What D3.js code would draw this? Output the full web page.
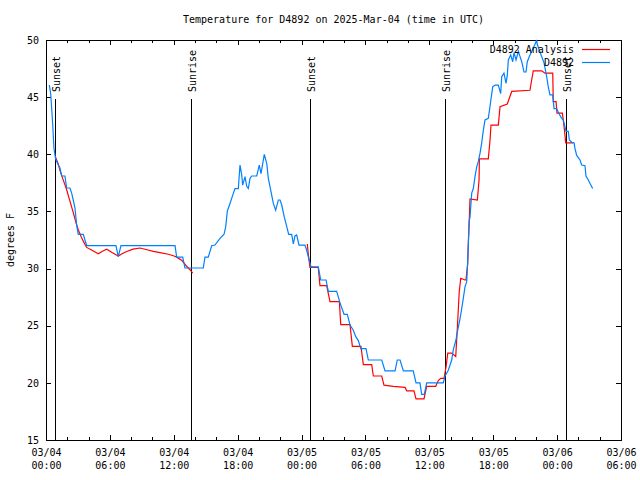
<!DOCTYPE html>
<html><head><meta charset="utf-8">
<script src="https://cdn.jsdelivr.net/npm/d3@7"></script>
<style>
html,body{margin:0;padding:0;background:#fff;}
svg{display:block;}
text{font-family:"DejaVu Sans Mono",monospace;font-size:10px;fill:#000;}
</style></head><body>
<svg id="c" width="640" height="480"></svg>
<script>
// ---- data (hours after 2025-03-04 00:00 UTC) ----
const obsHours = [0.31,0.44,0.54,0.63,0.69,0.75,0.85,0.94,1.16,1.31,1.47,1.78,1.94,2.25,2.41,2.56,2.72,2.88,3.03,3.50,3.66,3.82,6.57,6.79,7.04,12.12,12.27,12.84,13.05,14.77,14.93,15.24,15.56,15.87,16.34,16.72,16.88,17.03,17.28,17.53,17.75,18.06,18.22,18.38,18.47,18.69,18.85,19.00,19.16,19.32,19.79,20.03,20.19,20.50,20.73,20.88,21.20,21.35,21.57,21.82,21.98,22.14,22.38,22.61,22.79,23.07,23.23,23.38,23.54,23.76,24.32,24.48,24.63,24.89,25.57,25.80,26.30,26.51,27.30,27.61,27.99,28.30,28.55,28.86,29.09,29.33,29.56,30.05,30.27,31.53,31.84,32.78,32.99,33.25,33.56,34.49,34.75,35.12,35.28,35.53,35.75,37.31,37.47,37.78,38.10,38.25,38.50,38.66,38.88,39.04,39.19,39.35,39.51,39.60,39.66,39.75,39.82,39.98,40.13,40.29,40.45,40.60,40.76,40.92,41.07,41.23,41.54,41.70,41.95,42.17,42.48,42.70,42.80,43.01,43.20,43.32,43.42,43.64,43.83,43.95,44.14,44.36,44.52,44.68,44.89,45.08,45.20,45.39,45.61,45.76,45.92,46.08,46.14,46.33,46.55,46.77,47.02,47.17,47.33,47.59,47.71,47.96,48.11,48.27,48.43,48.58,48.74,48.84,49.05,49.15,49.37,49.59,49.68,49.84,50.15,50.31,50.62,50.71,50.93,51.09,51.34];
const obsTemps = [46.06,45.3,43.9,42.6,41.5,40.5,39.9,39.5,39.06,38.8,38.1,38.1,37.05,37.05,36.6,36.0,35.3,33.8,33.0,33.0,32.5,32.0,32.0,31.04,32.0,32.0,31.0,31.0,30.05,30.05,31.0,31.0,32.0,32.06,32.65,33.0,33.67,35.04,35.7,36.4,37.0,37.0,39.06,38.2,37.3,38.04,37.2,37.0,37.9,38.1,38.1,39.06,38.3,40.0,39.2,37.9,36.4,35.7,35.1,36.0,36.0,35.56,34.5,33.67,33.0,33.0,32.15,32.85,32.94,32.06,32.06,31.6,31.04,30.15,30.15,29.0,29.0,28.0,28.0,27.0,26.0,26.0,25.06,24.6,24.04,23.7,23.0,23.0,22.0,22.0,21.04,21.04,22.0,22.0,21.04,21.04,20.0,20.0,19.0,19.0,20.0,20.0,20.6,21.1,22.0,22.9,23.75,24.6,25.6,26.5,27.4,28.4,28.85,30.6,32.06,34.25,34.5,36.6,37.0,38.04,38.9,39.35,40.1,41.0,42.1,43.0,43.15,44.2,45.9,46.06,46.06,45.3,46.8,47.1,46.2,46.9,48.25,48.7,48.1,48.9,48.25,49.0,48.55,48.1,47.2,47.2,48.1,48.55,49.0,49.3,49.6,50.0,49.6,49.1,48.55,48.0,46.8,45.9,45.2,45.2,44.0,44.0,43.7,43.4,43.15,43.0,42.4,42.0,42.0,41.25,41.05,41.0,40.5,39.9,39.5,39.06,39.0,38.1,37.75,37.45,37.0];

// analysis: null marks the gap during the day of 03/04
const anaHours = [0.87,1.13,1.31,1.60,1.94,2.25,2.56,2.82,3.03,3.29,3.50,3.82,4.32,4.91,5.26,5.70,6.20,6.79,7.14,7.58,8.17,8.83,9.49,10.08,10.71,11.49,12.02,12.27,12.77,13.21,13.52,13.78,null,24.54,24.63,24.79,25.57,25.73,26.36,26.67,27.55,27.68,28.55,28.77,29.58,29.80,30.59,30.74,31.53,31.74,32.62,33.72,33.88,34.56,34.75,35.50,35.75,36.60,36.84,37.07,37.38,37.57,37.73,38.10,38.48,38.63,38.81,38.95,39.35,39.44,39.60,39.66,39.75,39.82,40.51,40.67,40.70,41.54,41.70,41.79,42.48,42.64,43.32,43.51,43.74,45.45,45.61,45.76,46.55,46.86,47.59,47.64,47.90,47.99,48.49,48.58,48.68,48.81,49.52];
const anaTemps = [39.8,39.2,38.6,37.8,36.9,35.9,34.9,34.0,33.4,32.8,32.4,31.85,31.6,31.3,31.5,31.7,31.4,31.1,31.3,31.5,31.7,31.8,31.65,31.5,31.4,31.25,31.1,31.0,30.7,30.2,29.9,29.6,null,32.15,31.3,30.1,30.1,28.5,28.5,27.1,27.1,25.1,25.1,23.2,23.2,21.6,21.6,20.6,20.6,19.8,19.7,19.6,19.3,19.3,18.6,18.6,19.7,19.7,20.2,20.4,20.4,21.4,22.6,22.6,22.3,24.8,28.0,29.15,29.0,29.0,30.4,32.2,34.25,36.1,36.0,37.75,39.6,39.6,41.25,42.56,42.56,44.16,44.4,44.9,45.5,45.6,46.5,47.3,47.3,47.1,47.1,44.6,44.6,43.6,43.6,43.0,42.2,41.0,41.0];

const sunHours  = [0.87, 13.59, 24.79, 37.47, 48.81];
const sunLabels = ["Sunset","Sunrise","Sunset","Sunrise","Sunset"];

const xMajorHours = [0,6,12,18,24,30,36,42,48,54];
const xMinorHours = [2,4,8,10,14,16,20,22,26,28,32,34,38,40,44,46,50,52];
const yTicks = [15,20,25,30,35,40,45,50];

const seriesNames = ["D4892 Analysis","D4892"];
const seriesColors = ["#ff0000","#0080ff"];
const titleText = "Temperature for D4892 on 2025-Mar-04 (time in UTC)";
const yLabel = "degrees F";

// ---- chart ----
const start = Date.UTC(2025,2,4,0,0);
const toDate = h => new Date(start + h*3600e3);
const L=46,R=621,T=40,B=440;
const svg = d3.select("#c");
const x = d3.scaleUtc().domain([toDate(0),toDate(54)]).range([L,R]);
const y = d3.scaleLinear().domain([15,50]).range([B,T]);

function styleAxis(g){
  g.attr("font-family",null).attr("font-size",null);
  g.selectAll("path.domain").attr("stroke","#000").attr("shape-rendering","crispEdges");
  g.selectAll(".tick line").attr("stroke","#000").attr("shape-rendering","crispEdges");
}

// bottom major
const gB = svg.append("g").attr("transform",`translate(0,${B})`)
  .call(d3.axisBottom(x).tickValues(xMajorHours.map(toDate)).tickSizeInner(-5).tickSizeOuter(0).tickPadding(9).tickFormat(d3.utcFormat("%m/%d")));
styleAxis(gB);
gB.selectAll(".tick text").each(function(d){
  const t=d3.select(this); t.text(null);
  t.append("tspan").attr("x",0).text(d3.utcFormat("%m/%d")(d));
  t.append("tspan").attr("x",0).attr("dy","1.3em").text(d3.utcFormat("%H:%M")(d));
});
svg.append("g").attr("transform",`translate(0,${B})`)
  .call(d3.axisBottom(x).tickValues(xMinorHours.map(toDate)).tickSizeInner(-3).tickSizeOuter(0).tickFormat(""))
  .call(styleAxis);
// top
svg.append("g").attr("transform",`translate(0,${T})`)
  .call(d3.axisTop(x).tickValues(xMajorHours.map(toDate)).tickSizeInner(-5).tickSizeOuter(0).tickFormat(""))
  .call(styleAxis);
svg.append("g").attr("transform",`translate(0,${T})`)
  .call(d3.axisTop(x).tickValues(xMinorHours.map(toDate)).tickSizeInner(-3).tickSizeOuter(0).tickFormat(""))
  .call(styleAxis);
// left
const gL = svg.append("g").attr("transform",`translate(${L},0)`)
  .call(d3.axisLeft(y).tickValues(yTicks).tickSizeInner(-5).tickSizeOuter(0).tickPadding(7).tickFormat(d3.format("d")));
styleAxis(gL);
// right
svg.append("g").attr("transform",`translate(${R},0)`)
  .call(d3.axisRight(y).tickValues(yTicks).tickSizeInner(-5).tickSizeOuter(0).tickFormat(""))
  .call(styleAxis);

// sun lines
const sun = svg.append("g");
sunHours.forEach((h,i)=>{
  const xx = Math.round(x(toDate(h)))+0.5;
  sun.append("line").attr("x1",xx).attr("x2",xx).attr("y1",99).attr("y2",B)
    .attr("stroke","#000").attr("stroke-width",1);
  sun.append("text").attr("transform",`translate(${xx+1},92) rotate(-90)`)
    .attr("text-anchor","start").attr("dominant-baseline","middle").text(sunLabels[i]);
});

// series
const line = d3.line().defined(d=>d[0]!==null && d[1]!==null)
  .x(d=>x(toDate(d[0]))).y(d=>y(d[1]));
const anaData = anaHours.map((h,i)=>[h,anaTemps[i]]);
const obsData = obsHours.map((h,i)=>[h,obsTemps[i]]);
svg.append("path").datum(anaData).attr("d",line).attr("fill","none")
  .attr("stroke",seriesColors[0]).attr("stroke-width",1.2);
svg.append("path").datum(obsData).attr("d",line).attr("fill","none")
  .attr("stroke",seriesColors[1]).attr("stroke-width",1.2);

// legend
seriesNames.forEach((n,i)=>{
  const yy = 49 + i*13;
  svg.append("text").attr("x",574).attr("y",yy+1).attr("text-anchor","end")
    .attr("dominant-baseline","middle").text(n);
  svg.append("line").attr("x1",582).attr("x2",610).attr("y1",yy+0.5).attr("y2",yy+0.5)
    .attr("stroke",seriesColors[i]).attr("stroke-width",1.2);
});

// title & y label
svg.append("text").attr("x",(L+R)/2).attr("y",20).attr("text-anchor","middle")
  .attr("dominant-baseline","middle").text(titleText);
svg.append("text").attr("transform",`translate(11,${(T+B)/2}) rotate(-90)`)
  .attr("text-anchor","middle").attr("dominant-baseline","middle").text(yLabel);
</script>
</body></html>
